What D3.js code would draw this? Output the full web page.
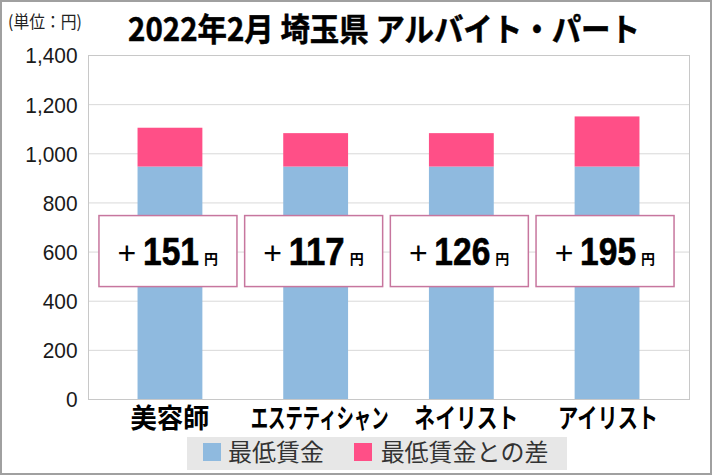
<!DOCTYPE html>
<html>
<head>
<meta charset="utf-8">
<script src="https://cdn.jsdelivr.net/npm/d3@7"></script>
<style>
  html, body { margin: 0; padding: 0; background: #fff; }
  svg { display: block; }
</style>
</head>
<body>
<div id="main"></div>
<script>
// data
let jobs = ["美容師", "エステティシャン", "ネイリスト", "アイリスト"]
let minWage = [946, 946, 946, 946]
let gap = [158, 136, 136, 204]
let gapLabels = ["151", "117", "126", "195"]
let seriesNames = ["最低賃金", "最低賃金との差"]
let yTicks = [0, 200, 400, 600, 800, 1000, 1200, 1400]

let width = 712
let height = 476
let jpFont = "'Noto Sans CJK JP', 'Noto Sans', sans-serif"
let numFont = "'Liberation Sans', Arial, sans-serif"
let colors = ["#8fbadf", "#ff4f87"]

// squeeze a text horizontally so it spans w pixels, centred on cx
let fit = (node, cx, y, w) => {
    let natural = node.getComputedTextLength()
    let sx = Math.min(1, w / natural)
    d3.select(node)
        .attr("text-anchor", "middle")
        .attr("transform", "translate(" + cx + "," + y + ") scale(" + sx + ",1)")
}

let svg = d3.select('#main')
            .append("svg")
            .attr("width", width)
            .attr("height", height)

// outer frame
svg.append("rect")
    .attr("x", 1).attr("y", 1)
    .attr("width", width - 2).attr("height", height - 3)
    .attr("fill", "#fff")
    .attr("stroke", "#a0a0a0")
    .attr("stroke-width", 2)

let xScale = d3.scaleBand()
                .domain(jobs)
                .range([88, 689])
                .paddingInner(0.555)
                .paddingOuter(0.34)

let yScale = d3.scaleLinear().domain([0, 1400]).range([399, 55])

// grid
svg.append("g")
    .selectAll("line")
    .data(yTicks)
    .enter()
    .append("line")
    .attr("x1", 88).attr("x2", 689)
    .attr("y1", (d) => yScale(d) + 0.5)
    .attr("y2", (d) => yScale(d) + 0.5)
    .attr("stroke", "#d9d9d9")
    .attr("stroke-width", 1)

svg.append("rect")
    .attr("x", 88.5).attr("y", yScale(1400) + 0.5)
    .attr("width", 601).attr("height", yScale(0) - yScale(1400))
    .attr("fill", "none")
    .attr("stroke", "#c8c8c8")

let yAxis = d3.axisLeft(yScale).tickValues(yTicks).tickFormat(d3.format(",")).tickSize(0).tickPadding(10)

let yG = svg.append('g')
    .attr("transform", "translate(88, 0)")
    .call(yAxis)
yG.select(".domain").remove()
yG.selectAll("text")
    .attr("font-family", numFont)
    .attr("font-size", 22)
    .attr("fill", "#1a1a1a")
    .attr("dy", "0.36em")
    .attr("transform", "scale(0.95,1)")
    .attr("x", -11)

// stacked bars
let rows = jobs.map((j, i) => ({job: j, base: minWage[i], diff: gap[i], label: gapLabels[i]}))

svg.append("g")
    .selectAll("rect")
    .data(rows)
    .enter()
    .append("rect")
    .attr("x", (d) => xScale(d.job))
    .attr("width", xScale.bandwidth())
    .attr("y", (d) => yScale(d.base))
    .attr("height", (d) => yScale(0) - yScale(d.base))
    .attr("fill", colors[0])

svg.append("g")
    .selectAll("rect")
    .data(rows)
    .enter()
    .append("rect")
    .attr("x", (d) => xScale(d.job))
    .attr("width", xScale.bandwidth())
    .attr("y", (d) => yScale(d.base + d.diff))
    .attr("height", (d) => yScale(d.base) - yScale(d.base + d.diff))
    .attr("fill", colors[1])

// difference boxes
let boxes = svg.append("g")
    .selectAll("g")
    .data(rows)
    .enter()
    .append("g")
    .attr("transform", (d) => "translate(" + (xScale(d.job) + xScale.bandwidth() / 2 - 2) + "," + yScale(600) + ")")

boxes.append("rect")
    .attr("x", -69).attr("y", -36)
    .attr("width", 138).attr("height", 71)
    .attr("fill", "#fff")
    .attr("stroke", "#c7769e")
    .attr("stroke-width", 1.5)

boxes.append("text")
    .attr("x", -41).attr("y", 12)
    .attr("text-anchor", "middle")
    .attr("font-family", numFont)
    .attr("font-size", 32)
    .attr("fill", "#000")
    .text("+")

boxes.append("text")
    .attr("font-family", numFont)
    .attr("font-weight", "bold")
    .attr("font-size", 39)
    .attr("stroke", "#000")
    .attr("stroke-width", 0.6)
    .attr("fill", "#000")
    .text((d) => d.label)
    .each(function () { fit(this, 3, 13, 56) })

boxes.append("text")
    .attr("x", 36).attr("y", 12)
    .attr("font-family", jpFont)
    .attr("font-weight", "bold")
    .attr("font-size", 14)
    .attr("fill", "#000")
    .text("円")

// x labels
let labelWidths = [79, 138, 104, 100]
let labelShift = [0, 4, 5, 1]
svg.append("g")
    .selectAll("text")
    .data(jobs)
    .enter()
    .append("text")
    .attr("dy", "0.36em")
    .attr("font-family", jpFont)
    .attr("font-weight", "bold")
    .attr("font-size", 27)
    .attr("fill", "#000")
    .text((d) => d)
    .each(function (d, i) { fit(this, xScale(d) + xScale.bandwidth() / 2 + labelShift[i], 418, labelWidths[i]) })

// title and unit
svg.append("text")
    .attr("dy", "0.36em")
    .attr("font-family", jpFont)
    .attr("font-weight", "bold")
    .attr("font-size", 32)
    .attr("stroke", "#000")
    .attr("stroke-width", 0.5)
    .attr("fill", "#000")
    .text("2022年2月 埼玉県 アルバイト・パート")
    .each(function () { fit(this, 384, 29, 512) })

svg.append("text")
    .attr("dy", "0.36em")
    .attr("font-family", jpFont)
    .attr("font-size", 17)
    .attr("fill", "#222")
    .text("(単位：円)")
    .each(function () { fit(this, 45, 22, 74) })

// legend
let legend = svg.append("g").attr("id", "legend")

legend.append("rect")
    .attr("x", 187).attr("y", 437)
    .attr("width", 380).attr("height", 33)
    .attr("fill", "#e7e7e7")

let legendX = [203, 354]
let legendW = [100, 175]
let items = legend.selectAll(".legend-label")
    .data(seriesNames)
    .enter()
    .append("g")
    .classed("legend-label", true)

items.append("rect")
    .attr("x", (d, i) => legendX[i])
    .attr("y", 443)
    .attr("width", 18).attr("height", 18)
    .attr("fill", (d, i) => colors[i])

items.append("text")
    .attr("dy", "0.36em")
    .attr("font-family", jpFont)
    .attr("font-size", 24)
    .attr("fill", "#333")
    .text((d) => d)
    .each(function (d, i) { fit(this, legendX[i] + 23 + legendW[i] / 2, 452, legendW[i]) })
</script>
</body>
</html>
